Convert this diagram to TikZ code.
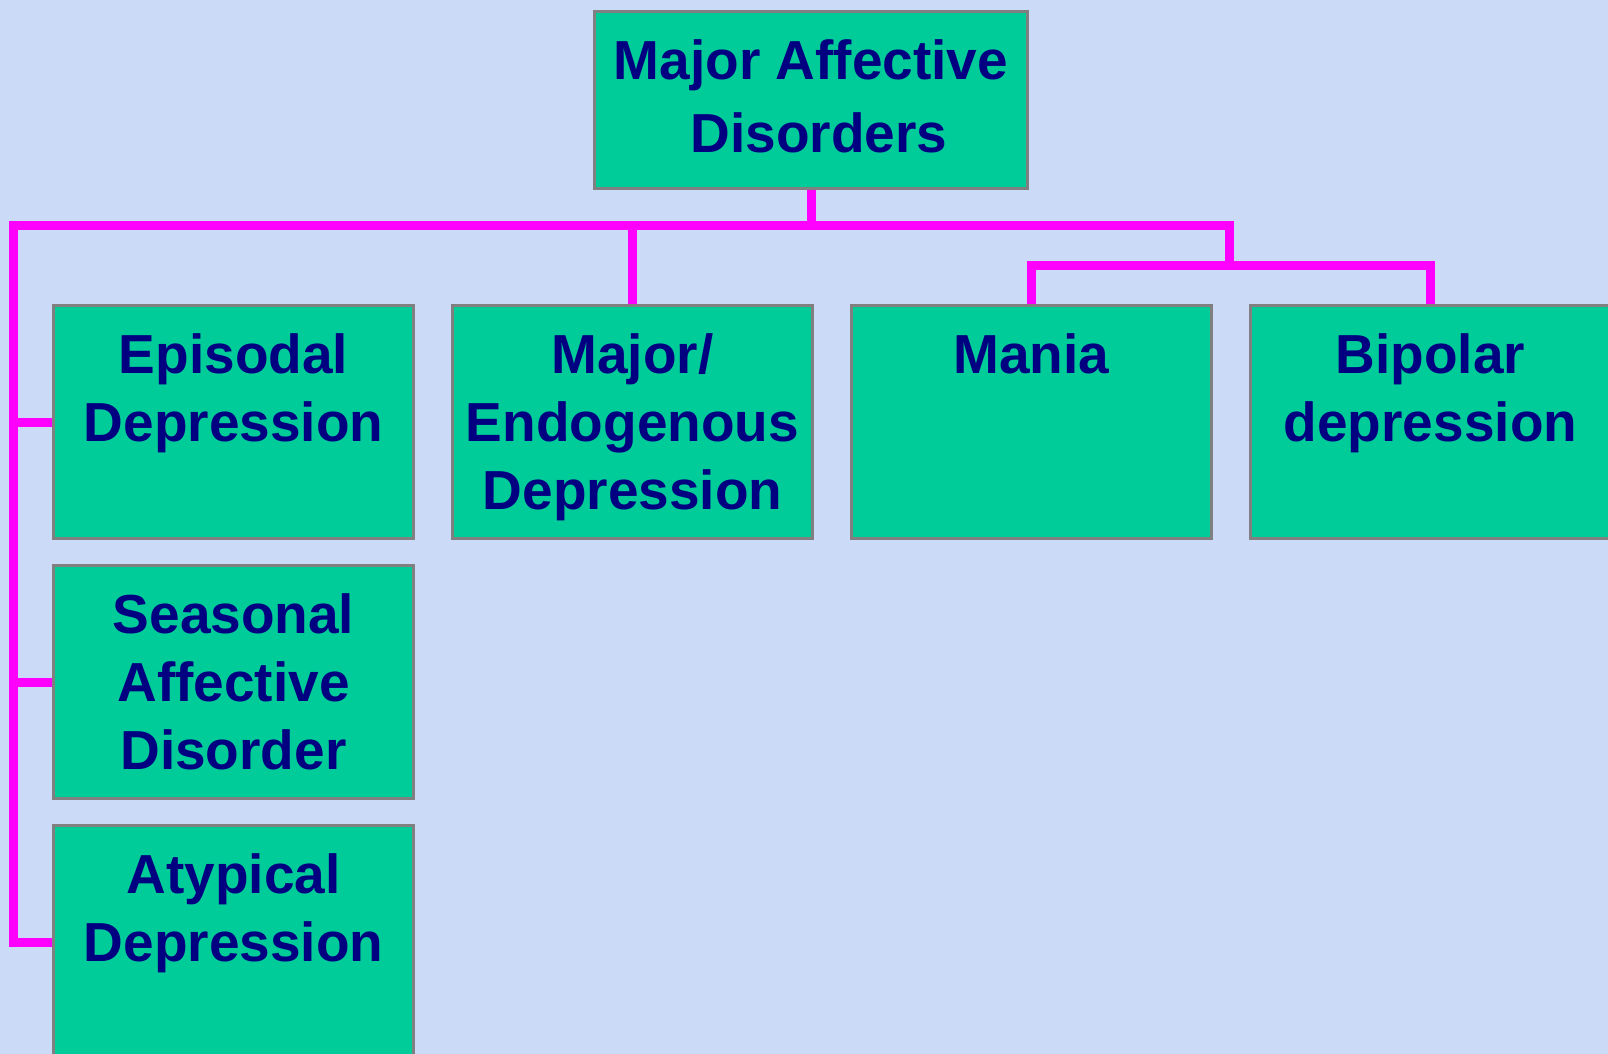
\documentclass[tikz,border=0pt]{standalone}
\usepackage{fontspec}
\setmainfont{Liberation Sans}
\usetikzlibrary{positioning}

\definecolor{paper}{RGB}{203,218,246}
\definecolor{boxfill}{RGB}{0,204,153}
\definecolor{boxline}{RGB}{128,128,128}
\definecolor{navy}{RGB}{0,0,128}
\definecolor{wire}{RGB}{255,0,255}

\tikzset{
  box/.style={draw=boxline, line width=1.5pt, fill=boxfill, anchor=north west,
    inner sep=0pt, minimum width=180pt, minimum height=116.5pt},
  boxtext/.style={font=\fontsize{27.5}{34}\selectfont\bfseries, text=navy,
    align=center, inner sep=0pt},
  link/.style={draw=wire, line width=4.5pt}
}

\begin{document}
\begin{tikzpicture}[x=0.5pt, y=-0.5pt]
            \useasboundingbox (0,0) rectangle (1608,1054);
            \clip (0,0) rectangle (1608,1054);
            \fill[paper] (0,0) rectangle (1608,1054);

            %boxes
            \node[box, minimum width=216.5pt, minimum height=88.5pt] (mad) at (593,10) {};
            \node[box] (epi) at (52,304) {};
            \node[box] (endo) at (451,304) {};
            \node[box] (mania) at (850,304) {};
            \node[box] (bip) at (1249,304) {};
            \node[box] (sad) at (52,564) {};
            \node[box] (atyp) at (52,824) {};

            %connectors
            \coordinate (trunk) at (13,226);
            \coordinate (fork) at (1229,226);
            \coordinate (split) at (1229,265);
            \draw[link] (mad.south) -- (mad.south |- trunk);
            \draw[link] (split) -- (fork) -- (trunk) -- (trunk |- atyp.west) -- (atyp.west);
            \foreach \b in {epi,sad}
                \draw[link] (trunk |- \b.west) -- (\b.west);
            \draw[link] (endo.north) -- (endo.north |- trunk);
            \draw[link] (mania.north) -- (mania.north |- split) -- (bip.north |- split) -- (bip.north);

            %labels
            \node[boxtext, font=\fontsize{27.5}{36.5}\selectfont\bfseries,
                below=14.5pt of mad.north] (mad-txt) {Major Affective\\\hspace*{8pt}Disorders};
            \node[boxtext, below=14.5pt of epi.north] (epi-txt) {Episodal\\Depression};
            \node[boxtext, below=14.5pt of endo.north] (endo-txt) {Major/\\Endogenous\\Depression};
            \node[boxtext, below=14.5pt of mania.north] (mania-txt) {Mania};
            \node[boxtext, below=14.5pt of bip.north] (bip-txt) {Bipolar\\depression};
            \node[boxtext, below=14.5pt of sad.north] (sad-txt) {Seasonal\\Affective\\Disorder};
            \node[boxtext, below=14.5pt of atyp.north] (atyp-txt) {Atypical\\Depression};
\end{tikzpicture}
\end{document}
